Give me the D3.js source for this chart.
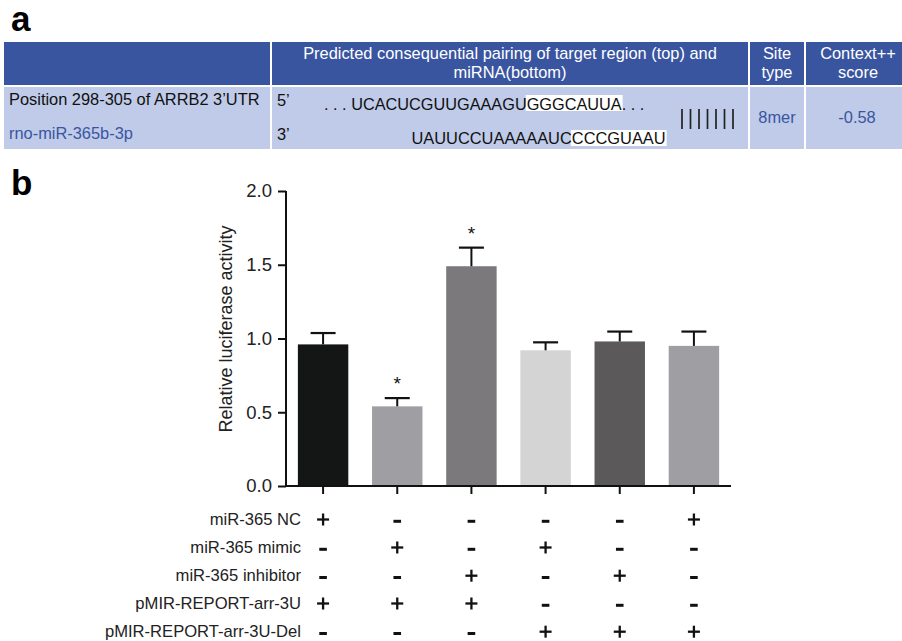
<!DOCTYPE html>
<html><head><meta charset="utf-8">
<script src="https://cdn.jsdelivr.net/npm/d3@7"></script>
<style>body{margin:0;background:#fff;} text{font-family:"Liberation Sans",Arial,sans-serif;}</style>
</head><body><svg id="c" width="902" height="641"></svg>
<script>
const groups = ["G1","G2","G3","G4","G5","G6"];
const values = [0.96, 0.54, 1.49, 0.92, 0.98, 0.95];
const errors = [0.077, 0.056, 0.126, 0.054, 0.067, 0.097];
const barColors = ["#141615","#9f9ea3","#7b797c","#d4d4d4","#5b595a","#9f9ea3"];
const significant = [false, true, true, false, false, false];
const yTicks = [0, 0.5, 1.0, 1.5, 2.0];
const rowLabels = ["miR-365 NC","miR-365 mimic","miR-365 inhibitor","pMIR-REPORT-arr-3U","pMIR-REPORT-arr-3U-Del"];
const conditions = [
  ["+","-","-","-","-","+"],
  ["-","+","-","+","-","-"],
  ["-","-","+","-","+","-"],
  ["+","+","+","-","-","-"],
  ["-","-","-","+","+","+"]
];
const tableHeader = [["Predicted consequential pairing of target region (top) and","miRNA(bottom)"],["Site","type"],["Context++","score"]];
const targetRow = {name:"Position 298-305 of ARRB2 3\u2019UTR", end:"5\u2019", seqA:". . . UCACUCGUUGAAAGU", seqB:"GGGCAUUA", seqC:". . ."};
const mirnaRow = {name:"rno-miR-365b-3p", end:"3\u2019", seqA:"UAUUCCUAAAAAUC", seqB:"CCCGUAAU"};
const pairCount = 7;
const siteType = "8mer";
const contextScore = "-0.58";

const svg = d3.select("#c");
const dark = "#3a55a0", light = "#bfcbe9", blueText = "#3a55a0";
const FS = 16.4;

// panel labels
svg.append("text").attr("x",11).attr("y",31).attr("font-size",35).attr("font-weight","bold").text("a");
svg.append("text").attr("x",11).attr("y",195).attr("font-size",35).attr("font-weight","bold").text("b");

// table
const cols = [[4,270],[272,748],[750,804],[806,902]];
cols.forEach(c=>{
  svg.append("rect").attr("x",c[0]).attr("y",42).attr("width",c[1]-c[0]).attr("height",43).attr("fill",dark);
  svg.append("rect").attr("x",c[0]).attr("y",87).attr("width",c[1]-c[0]).attr("height",62).attr("fill",light);
});
const hdrX = [510, 777, 858];
tableHeader.forEach((lines,i)=>{
  lines.forEach((l,j)=>{
    svg.append("text").attr("x",hdrX[i]).attr("y",59+j*18.5).attr("text-anchor","middle")
      .attr("font-size",FS).attr("fill","#fff").text(l);
  });
});
svg.append("text").attr("x",9).attr("y",105).attr("font-size",FS).attr("fill","#111").text(targetRow.name);
svg.append("text").attr("x",9).attr("y",139).attr("font-size",FS).attr("fill",blueText).text(mirnaRow.name);
svg.append("text").attr("x",277).attr("y",106).attr("font-size",FS).attr("fill","#111").text(targetRow.end);
svg.append("text").attr("x",277).attr("y",140).attr("font-size",FS).attr("fill","#111").text(mirnaRow.end);

function seqLine(x, y, parts, hl, top, h, fs){
  const t = svg.append("text").attr("x",x).attr("y",y).attr("font-size",fs).attr("fill","#111");
  const spans = parts.map(p=>t.append("tspan").text(p));
  const node = spans[hl].node();
  const n = node.getNumberOfChars();
  const s = node.getStartPositionOfChar(0).x;
  const e = node.getEndPositionOfChar(n-1).x;
  svg.insert("rect",()=>t.node()).attr("x",s-1).attr("y",y-top).attr("width",e-s+2).attr("height",h).attr("fill","#fff");
}
seqLine(324,109.5,[targetRow.seqA,targetRow.seqB,targetRow.seqC],1,14.5,16,16.3);
seqLine(411.5,144,[mirnaRow.seqA,mirnaRow.seqB],1,14,16,16.4);
// pairing lines
d3.range(pairCount).forEach(i=>{
  const xx = 682 + i*8.5;
  svg.append("line").attr("x1",xx).attr("x2",xx).attr("y1",109).attr("y2",129).attr("stroke","#222").attr("stroke-width",1.7);
});
svg.append("text").attr("x",777).attr("y",123).attr("text-anchor","middle").attr("font-size",FS).attr("fill",blueText).text(siteType);
svg.append("text").attr("x",857).attr("y",123).attr("text-anchor","middle").attr("font-size",FS).attr("fill",blueText).text(contextScore);

// chart
const x = d3.scaleBand().domain(groups).range([286,731]).paddingInner(0.32).paddingOuter(0.16);
const y = d3.scaleLinear().domain([0,2]).range([486,191]);
const g = svg.append("g");

g.selectAll("rect.bar").data(values).join("rect").attr("class","bar")
  .attr("x",(d,i)=>x(groups[i])).attr("width",x.bandwidth())
  .attr("y",d=>y(d)).attr("height",d=>y(0)-y(d)).attr("fill",(d,i)=>barColors[i]);

values.forEach((v,i)=>{
  const cx = x(groups[i])+x.bandwidth()/2;
  g.append("line").attr("x1",cx).attr("x2",cx).attr("y1",y(v)).attr("y2",y(v+errors[i])).attr("stroke","#111").attr("stroke-width",2);
  g.append("line").attr("x1",cx-12.5).attr("x2",cx+12.5).attr("y1",y(v+errors[i])).attr("y2",y(v+errors[i])).attr("stroke","#111").attr("stroke-width",2.2);
  if(significant[i]) g.append("text").attr("x",cx).attr("y",y(v+errors[i])-8).attr("text-anchor","middle").attr("font-size",19).attr("fill","#111").text("*");
});

const yAxis = g.append("g").attr("transform","translate(286,0)")
  .call(d3.axisLeft(y).tickValues(yTicks).tickFormat(d3.format(".1f")).tickSize(8).tickSizeOuter(0));
yAxis.select(".domain").attr("stroke","#111").attr("stroke-width",2).attr("d","M0,"+y(2)+"V"+(y(0)+1));
yAxis.selectAll(".tick line").attr("stroke","#111").attr("stroke-width",2);
yAxis.selectAll(".tick text").attr("font-size",18.5).attr("fill","#222").attr("x",-14).attr("font-family","Liberation Sans, Arial, sans-serif");

const xAxis = g.append("g").attr("transform","translate(0,486)")
  .call(d3.axisBottom(x).tickSize(8).tickSizeOuter(0).tickFormat(""));
xAxis.select(".domain").attr("stroke","#111").attr("stroke-width",2).attr("d","M285,0H731");
xAxis.selectAll(".tick line").attr("stroke","#111").attr("stroke-width",2);

svg.append("text").attr("transform","translate(232,329) rotate(-90)").attr("text-anchor","middle")
  .attr("font-size",18).attr("fill","#222").text("Relative luciferase activity");

const rowY = [519.5, 547.5, 575.7, 603.5, 631.7];
rowLabels.forEach((l,r)=>{
  svg.append("text").attr("x",301).attr("y",rowY[r]+5.5).attr("text-anchor","end").attr("font-size",16.6).attr("fill","#222").text(l);
  conditions[r].forEach((s,i)=>{
    const cx = x(groups[i])+x.bandwidth()/2;
    if(s==="+"){
      g.append("line").attr("x1",cx-6).attr("x2",cx+6).attr("y1",rowY[r]).attr("y2",rowY[r]).attr("stroke","#111").attr("stroke-width",2.3);
      g.append("line").attr("x1",cx).attr("x2",cx).attr("y1",rowY[r]-6).attr("y2",rowY[r]+6).attr("stroke","#111").attr("stroke-width",2.3);
    } else {
      g.append("line").attr("x1",cx-3.8).attr("x2",cx+3.8).attr("y1",rowY[r]+1.8).attr("y2",rowY[r]+1.8).attr("stroke","#111").attr("stroke-width",3);
    }
  });
});
</script></body></html>
